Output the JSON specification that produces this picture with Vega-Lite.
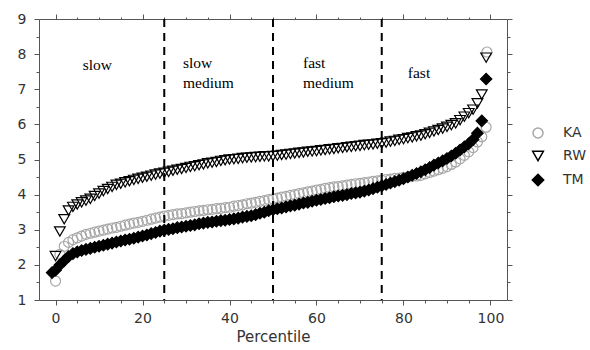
{
  "$schema": "https://vega.github.io/schema/vega-lite/v6.json",
  "width": 468,
  "height": 281,
  "autosize": {"type": "none"},
  "padding": {"left": 39, "top": 19, "right": 83, "bottom": 50},
  "background": "white",
  "config": {
    "view": {"stroke": "#555555", "strokeWidth": 1},
    "axis": {"grid": false, "domain": false, "tickColor": "#555555", "tickWidth": 1, "labelFont": "DejaVu Sans", "labelFontSize": 14, "labelColor": "#333333", "titleFont": "DejaVu Sans", "titleFontSize": 15, "titleFontWeight": "normal", "titleColor": "#333333"}
  },
  "datasets": {
    "curves": [
      {"p":-0.8,"TM":1.78},
      {"p":0,"KA":1.54,"RW":2.25,"TM":1.85},{"p":1,"KA":2.3,"RW":2.95,"TM":2.0},{"p":2,"KA":2.53,"RW":3.3,"TM":2.12},{"p":3,"KA":2.64,"RW":3.55,"TM":2.24},{"p":4,"KA":2.72,"RW":3.65,"TM":2.32},
      {"p":5,"KA":2.77,"RW":3.72,"TM":2.37},{"p":6,"KA":2.82,"RW":3.78,"TM":2.41},{"p":7,"KA":2.87,"RW":3.83,"TM":2.44},{"p":8,"KA":2.9,"RW":3.88,"TM":2.47},{"p":9,"KA":2.93,"RW":3.96,"TM":2.5},
      {"p":10,"KA":2.96,"RW":4.03,"TM":2.53},{"p":11,"KA":2.99,"RW":4.1,"TM":2.56},{"p":12,"KA":3.02,"RW":4.16,"TM":2.59},{"p":13,"KA":3.05,"RW":4.22,"TM":2.62},{"p":14,"KA":3.07,"RW":4.28,"TM":2.65},
      {"p":15,"KA":3.1,"RW":4.31,"TM":2.68},{"p":16,"KA":3.13,"RW":4.35,"TM":2.71},{"p":17,"KA":3.16,"RW":4.38,"TM":2.73},{"p":18,"KA":3.19,"RW":4.42,"TM":2.76},{"p":19,"KA":3.21,"RW":4.45,"TM":2.79},
      {"p":20,"KA":3.24,"RW":4.48,"TM":2.82},{"p":21,"KA":3.27,"RW":4.51,"TM":2.85},{"p":22,"KA":3.3,"RW":4.54,"TM":2.89},{"p":23,"KA":3.33,"RW":4.57,"TM":2.92},{"p":24,"KA":3.36,"RW":4.6,"TM":2.96},
      {"p":25,"KA":3.39,"RW":4.62,"TM":2.99},{"p":26,"KA":3.41,"RW":4.65,"TM":3.01},{"p":27,"KA":3.43,"RW":4.68,"TM":3.03},{"p":28,"KA":3.45,"RW":4.71,"TM":3.06},{"p":29,"KA":3.46,"RW":4.73,"TM":3.08},
      {"p":30,"KA":3.48,"RW":4.76,"TM":3.1},{"p":31,"KA":3.5,"RW":4.79,"TM":3.12},{"p":32,"KA":3.52,"RW":4.81,"TM":3.14},{"p":33,"KA":3.54,"RW":4.84,"TM":3.17},{"p":34,"KA":3.55,"RW":4.86,"TM":3.19},
      {"p":35,"KA":3.57,"RW":4.89,"TM":3.21},{"p":36,"KA":3.58,"RW":4.91,"TM":3.22},{"p":37,"KA":3.6,"RW":4.93,"TM":3.24},{"p":38,"KA":3.61,"RW":4.96,"TM":3.26},{"p":39,"KA":3.63,"RW":4.98,"TM":3.27},
      {"p":40,"KA":3.64,"RW":5.0,"TM":3.29},{"p":41,"KA":3.67,"RW":5.01,"TM":3.31},{"p":42,"KA":3.69,"RW":5.02,"TM":3.33},{"p":43,"KA":3.71,"RW":5.04,"TM":3.36},{"p":44,"KA":3.74,"RW":5.05,"TM":3.38},
      {"p":45,"KA":3.76,"RW":5.06,"TM":3.4},{"p":46,"KA":3.78,"RW":5.07,"TM":3.43},{"p":47,"KA":3.81,"RW":5.08,"TM":3.47},{"p":48,"KA":3.83,"RW":5.09,"TM":3.5},{"p":49,"KA":3.86,"RW":5.09,"TM":3.54},
      {"p":50,"KA":3.88,"RW":5.1,"TM":3.57},{"p":51,"KA":3.9,"RW":5.11,"TM":3.6},{"p":52,"KA":3.93,"RW":5.13,"TM":3.62},{"p":53,"KA":3.95,"RW":5.14,"TM":3.65},{"p":54,"KA":3.98,"RW":5.16,"TM":3.68},
      {"p":55,"KA":4.0,"RW":5.17,"TM":3.7},{"p":56,"KA":4.03,"RW":5.19,"TM":3.73},{"p":57,"KA":4.05,"RW":5.2,"TM":3.76},{"p":58,"KA":4.08,"RW":5.22,"TM":3.78},{"p":59,"KA":4.1,"RW":5.23,"TM":3.81},
      {"p":60,"KA":4.13,"RW":5.24,"TM":3.84},{"p":61,"KA":4.15,"RW":5.26,"TM":3.86},{"p":62,"KA":4.18,"RW":5.27,"TM":3.89},{"p":63,"KA":4.2,"RW":5.29,"TM":3.91},{"p":64,"KA":4.22,"RW":5.3,"TM":3.94},
      {"p":65,"KA":4.23,"RW":5.32,"TM":3.96},{"p":66,"KA":4.25,"RW":5.33,"TM":3.98},{"p":67,"KA":4.27,"RW":5.35,"TM":4.0},{"p":68,"KA":4.29,"RW":5.36,"TM":4.03},{"p":69,"KA":4.31,"RW":5.38,"TM":4.05},
      {"p":70,"KA":4.32,"RW":5.39,"TM":4.07},{"p":71,"KA":4.34,"RW":5.41,"TM":4.1},{"p":72,"KA":4.36,"RW":5.42,"TM":4.13},{"p":73,"KA":4.38,"RW":5.43,"TM":4.17},{"p":74,"KA":4.39,"RW":5.45,"TM":4.21},
      {"p":75,"KA":4.41,"RW":5.46,"TM":4.25},{"p":76,"KA":4.43,"RW":5.48,"TM":4.29},{"p":77,"KA":4.44,"RW":5.51,"TM":4.33},{"p":78,"KA":4.46,"RW":5.53,"TM":4.37},{"p":79,"KA":4.47,"RW":5.56,"TM":4.41},
      {"p":80,"KA":4.49,"RW":5.58,"TM":4.45},{"p":81,"KA":4.5,"RW":5.61,"TM":4.5},{"p":82,"KA":4.52,"RW":5.63,"TM":4.55},{"p":83,"KA":4.53,"RW":5.66,"TM":4.6},{"p":84,"KA":4.55,"RW":5.68,"TM":4.65},
      {"p":85,"KA":4.59,"RW":5.72,"TM":4.71},{"p":86,"KA":4.63,"RW":5.76,"TM":4.77},{"p":87,"KA":4.67,"RW":5.8,"TM":4.84},{"p":88,"KA":4.71,"RW":5.84,"TM":4.9},{"p":89,"KA":4.75,"RW":5.88,"TM":4.96},
      {"p":90,"KA":4.8,"RW":5.93,"TM":5.03},{"p":91,"KA":4.86,"RW":5.98,"TM":5.1},{"p":92,"KA":4.93,"RW":6.03,"TM":5.18},{"p":93,"KA":5.02,"RW":6.12,"TM":5.27},{"p":94,"KA":5.12,"RW":6.22,"TM":5.36},
      {"p":95,"KA":5.22,"RW":6.32,"TM":5.45},{"p":96,"KA":5.34,"RW":6.42,"TM":5.57},{"p":97,"KA":5.5,"RW":6.6,"TM":5.75},{"p":98,"KA":5.65,"RW":6.85,"TM":6.1},{"p":99,"KA":5.92,"RW":7.9,"TM":7.29},
      {"p":99.2,"KA":8.06}
    ],
    "cuts": [{"p":25},{"p":50},{"p":75}],
    "lab1": [{"p":6.25,"v":7.54,"t":"slow"}],
    "lab2": [{"p":29.3,"v":7.6,"t":"slow\nmedium"}],
    "lab3": [{"p":56.9,"v":7.6,"t":"fast\nmedium"},{"p":81.0,"v":7.31,"t":"fast"}]
  },
  "resolve": {"axis": {"x": "independent", "y": "independent"}},
  "layer": [
    {
      "data": {"name": "curves"},
      "transform": [
        {"fold": ["KA", "RW", "TM"], "as": ["s", "v"]},
        {"filter": "isValid(datum.v)"}
      ],
      "mark": {"type": "point", "strokeWidth": 1.2, "opacity": 1},
      "encoding": {
        "x": {"field": "p", "type": "quantitative", "scale": {"domain": [-3.8, 103.8], "nice": false, "zero": false},
              "axis": {"orient": "bottom", "values": [0, 20, 40, 60, 80, 100], "tickSize": 5, "labelPadding": 6, "title": "Percentile", "titlePadding": 4}},
        "y": {"field": "v", "type": "quantitative", "scale": {"domain": [1, 9], "nice": false, "zero": false},
              "axis": {"orient": "left", "values": [1, 2, 3, 4, 5, 6, 7, 8, 9], "tickSize": 5, "labelPadding": 8, "title": null}},
        "shape": {"field": "s", "type": "nominal", "scale": {"domain": ["KA", "RW", "TM"], "range": ["circle", "triangle-down", "diamond"]},
                  "legend": {"title": null, "orient": "none", "legendX": 492, "legendY": 107, "padding": 0, "rowPadding": 7, "labelOffset": 18, "labelFont": "DejaVu Sans", "labelFontSize": 14, "labelColor": "#333333"}},
        "stroke": {"field": "s", "type": "nominal", "scale": {"domain": ["KA", "RW", "TM"], "range": ["#a6a6a6", "#000000", "#000000"]},
                  "legend": {"title": null, "orient": "none", "legendX": 492, "legendY": 107, "padding": 0, "rowPadding": 7, "labelOffset": 18, "labelFont": "DejaVu Sans", "labelFontSize": 14, "labelColor": "#333333"}},
        "fill": {"field": "s", "type": "nominal", "scale": {"domain": ["KA", "RW", "TM"], "range": ["transparent", "transparent", "#000000"]},
                  "legend": {"title": null, "orient": "none", "legendX": 492, "legendY": 107, "padding": 0, "rowPadding": 7, "labelOffset": 18, "labelFont": "DejaVu Sans", "labelFontSize": 14, "labelColor": "#333333"}},
        "size": {"field": "s", "type": "nominal", "scale": {"domain": ["KA", "RW", "TM"], "range": [100, 130, 80]},
                  "legend": {"title": null, "orient": "none", "legendX": 492, "legendY": 107, "padding": 0, "rowPadding": 7, "labelOffset": 18, "labelFont": "DejaVu Sans", "labelFontSize": 14, "labelColor": "#333333"}},
        "order": {"field": "s", "sort": "ascending"}
      }
    },
    {
      "data": {"name": "cuts"},
      "mark": {"type": "rule", "strokeDash": [8, 6], "strokeWidth": 2, "color": "#000000"},
      "encoding": {
        "x": {"field": "p", "type": "quantitative", "scale": {"domain": [-3.8, 103.8], "nice": false, "zero": false},
              "axis": {"orient": "bottom", "values": [5, 10, 15, 25, 30, 35, 45, 50, 55, 65, 70, 75, 85, 90, 95], "tickSize": 3, "labels": false, "title": null}}
      }
    },
    {
      "data": {"name": "lab1"},
      "mark": {"type": "text", "font": "Liberation Serif", "fontSize": 15.5, "align": "left", "baseline": "alphabetic", "lineBreak": "\n", "lineHeight": 20, "color": "#000000"},
      "encoding": {
        "x": {"field": "p", "type": "quantitative", "scale": {"domain": [-3.8, 103.8], "nice": false, "zero": false},
              "axis": {"orient": "top", "values": [0, 20, 40, 60, 80, 100], "tickSize": 5, "labels": false, "title": null}},
        "y": {"field": "v", "type": "quantitative", "scale": {"domain": [1, 9], "nice": false, "zero": false},
              "axis": {"orient": "right", "values": [1, 2, 3, 4, 5, 6, 7, 8, 9], "tickSize": 5, "labels": false, "title": null}},
        "text": {"field": "t", "type": "nominal"}
      }
    },
    {
      "data": {"name": "lab2"},
      "mark": {"type": "text", "font": "Liberation Serif", "fontSize": 15.5, "align": "left", "baseline": "alphabetic", "lineBreak": "\n", "lineHeight": 20, "color": "#000000"},
      "encoding": {
        "x": {"field": "p", "type": "quantitative", "scale": {"domain": [-3.8, 103.8], "nice": false, "zero": false},
              "axis": {"orient": "top", "values": [5, 10, 15, 25, 30, 35, 45, 50, 55, 65, 70, 75, 85, 90, 95], "tickSize": 2, "labels": false, "title": null}},
        "y": {"field": "v", "type": "quantitative", "scale": {"domain": [1, 9], "nice": false, "zero": false},
              "axis": {"orient": "right", "values": [1.5, 2.5, 3.5, 4.5, 5.5, 6.5, 7.5, 8.5], "tickSize": 3, "labels": false, "title": null}},
        "text": {"field": "t", "type": "nominal"}
      }
    },
    {
      "data": {"name": "lab3"},
      "mark": {"type": "text", "font": "Liberation Serif", "fontSize": 15.5, "align": "left", "baseline": "alphabetic", "lineBreak": "\n", "lineHeight": 20, "color": "#000000"},
      "encoding": {
        "x": {"field": "p", "type": "quantitative", "scale": {"domain": [-3.8, 103.8], "nice": false, "zero": false}, "axis": null},
        "y": {"field": "v", "type": "quantitative", "scale": {"domain": [1, 9], "nice": false, "zero": false},
              "axis": {"orient": "left", "values": [1.5, 2.5, 3.5, 4.5, 5.5, 6.5, 7.5, 8.5], "tickSize": 3, "labels": false, "title": null}},
        "text": {"field": "t", "type": "nominal"}
      }
    }
  ]
}
